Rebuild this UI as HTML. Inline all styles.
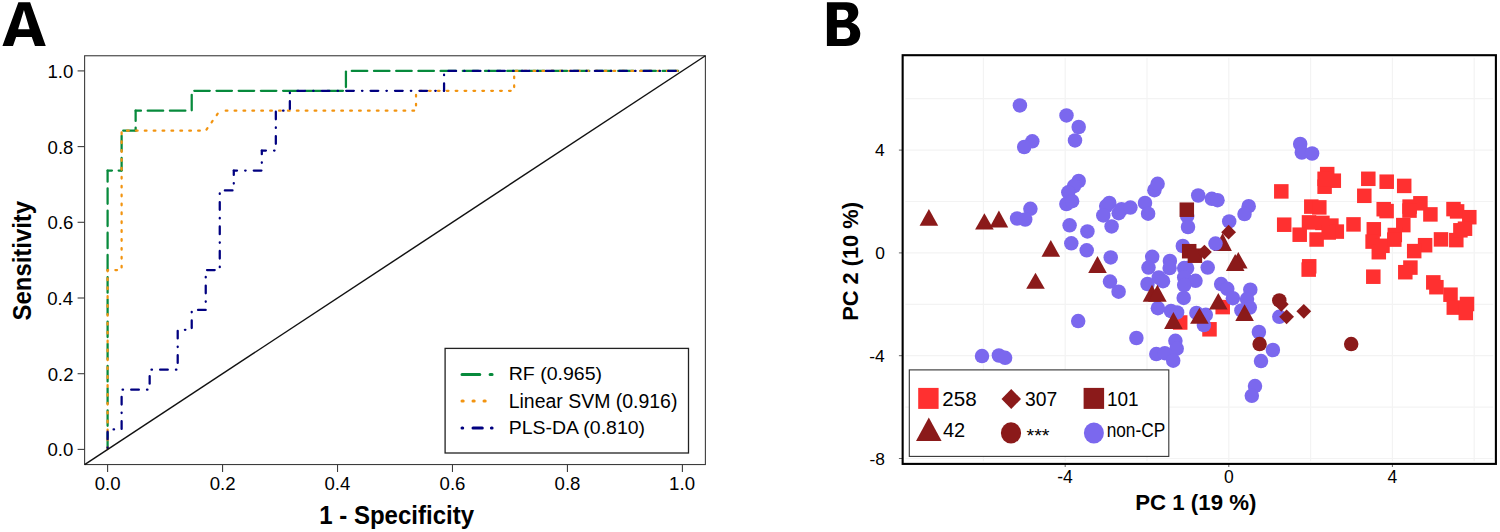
<!DOCTYPE html>
<html><head><meta charset="utf-8"><style>
html,body{margin:0;padding:0;background:#fff;}
svg{display:block;}
text{font-family:"Liberation Sans", sans-serif;fill:#000;}
</style></head><body>
<svg width="1500" height="532" viewBox="0 0 1500 532">
<rect width="1500" height="532" fill="#fff"/>
<g fill="none" stroke="#078A3C" stroke-width="2.25" stroke-linecap="round" stroke-dasharray="15.5 6.7"><line x1="107.60" y1="449.40" x2="107.60" y2="170.51" stroke-dashoffset="20.85"/><line x1="107.60" y1="170.51" x2="121.62" y2="170.51" stroke-dashoffset="11.14"/><line x1="121.62" y1="170.51" x2="121.62" y2="130.66" stroke-dashoffset="2.96"/><line x1="121.62" y1="130.66" x2="135.64" y2="130.66" stroke-dashoffset="20.61"/><line x1="135.64" y1="130.66" x2="135.64" y2="110.74" stroke-dashoffset="12.43"/><line x1="135.64" y1="110.74" x2="191.72" y2="110.74" stroke-dashoffset="10.15"/><line x1="191.72" y1="110.74" x2="191.72" y2="90.82" stroke-dashoffset="21.82"/><line x1="191.72" y1="90.82" x2="345.93" y2="90.82" stroke-dashoffset="19.65"/><line x1="345.93" y1="90.82" x2="345.93" y2="70.90" stroke-dashoffset="18.46"/><line x1="345.93" y1="70.90" x2="682.40" y2="70.90" stroke-dashoffset="16.35"/></g>
<g fill="none" stroke="#F29410" stroke-width="2.25" stroke-linecap="round" stroke-dasharray="1.7 7.19"><line x1="107.60" y1="449.40" x2="107.60" y2="270.11" stroke-dashoffset="8.54"/><line x1="107.60" y1="270.11" x2="121.62" y2="270.11" stroke-dashoffset="1.14"/><line x1="121.62" y1="270.11" x2="121.62" y2="130.66" stroke-dashoffset="6.27"/><line x1="121.62" y1="130.66" x2="205.74" y2="130.66" stroke-dashoffset="3.49"/><line x1="205.74" y1="130.66" x2="219.76" y2="110.74" stroke-dashoffset="7.60"/><line x1="219.76" y1="110.74" x2="416.03" y2="110.74" stroke-dashoffset="2.93"/><line x1="416.03" y1="110.74" x2="416.03" y2="90.82" stroke-dashoffset="3.62"/><line x1="416.03" y1="90.82" x2="514.17" y2="90.82" stroke-dashoffset="4.81"/><line x1="514.17" y1="90.82" x2="514.17" y2="70.90" stroke-dashoffset="5.16"/><line x1="514.17" y1="70.90" x2="682.40" y2="70.90" stroke-dashoffset="7.30"/></g>
<g fill="none" stroke="#000080" stroke-width="2.25" stroke-linecap="round" stroke-dasharray="0.5 8.11 7.7 8.11"><line x1="107.60" y1="449.40" x2="107.60" y2="429.48" stroke-dashoffset="22.96"/><line x1="107.60" y1="429.48" x2="121.62" y2="429.48" stroke-dashoffset="18.46"/><line x1="121.62" y1="429.48" x2="121.62" y2="389.64" stroke-dashoffset="8.06"/><line x1="121.62" y1="389.64" x2="149.66" y2="389.64" stroke-dashoffset="23.48"/><line x1="149.66" y1="389.64" x2="149.66" y2="369.72" stroke-dashoffset="2.68"/><line x1="149.66" y1="369.72" x2="177.70" y2="369.72" stroke-dashoffset="22.60"/><line x1="177.70" y1="369.72" x2="177.70" y2="329.87" stroke-dashoffset="1.80"/><line x1="177.70" y1="329.87" x2="191.72" y2="329.87" stroke-dashoffset="17.22"/><line x1="191.72" y1="329.87" x2="191.72" y2="309.95" stroke-dashoffset="6.82"/><line x1="191.72" y1="309.95" x2="205.74" y2="309.95" stroke-dashoffset="2.32"/><line x1="205.74" y1="309.95" x2="205.74" y2="270.11" stroke-dashoffset="16.34"/><line x1="205.74" y1="270.11" x2="219.76" y2="270.11" stroke-dashoffset="7.35"/><line x1="219.76" y1="270.11" x2="219.76" y2="190.43" stroke-dashoffset="21.54"/><line x1="219.76" y1="190.43" x2="233.78" y2="190.43" stroke-dashoffset="3.54"/><line x1="233.78" y1="190.43" x2="233.78" y2="170.51" stroke-dashoffset="17.56"/><line x1="233.78" y1="170.51" x2="261.81" y2="170.51" stroke-dashoffset="13.06"/><line x1="261.81" y1="170.51" x2="261.81" y2="150.58" stroke-dashoffset="16.68"/><line x1="261.81" y1="150.58" x2="275.83" y2="150.58" stroke-dashoffset="12.18"/><line x1="275.83" y1="150.58" x2="275.83" y2="110.74" stroke-dashoffset="1.78"/><line x1="275.83" y1="110.74" x2="289.85" y2="110.74" stroke-dashoffset="17.21"/><line x1="289.85" y1="110.74" x2="289.85" y2="90.82" stroke-dashoffset="6.81"/><line x1="289.85" y1="90.82" x2="444.07" y2="90.82" stroke-dashoffset="1.14"/><line x1="444.07" y1="90.82" x2="444.07" y2="70.90" stroke-dashoffset="8.83"/><line x1="444.07" y1="70.90" x2="682.40" y2="70.90" stroke-dashoffset="4.34"/></g>
<rect x="84.61" y="55.76" width="620.78" height="408.78" fill="none" stroke="#3c3c3c" stroke-width="1.1"/>
<line x1="77.6" y1="449.40" x2="84.61" y2="449.40" stroke="#3c3c3c" stroke-width="1.1"/>
<line x1="107.60" y1="464.54" x2="107.60" y2="472" stroke="#3c3c3c" stroke-width="1.1"/>
<text transform="translate(47.44,456.30) scale(1.0000,1)" font-size="18.6">0.0</text>
<text transform="translate(94.65,490.00) scale(1.0000,1)" font-size="18.6">0.0</text>
<line x1="77.6" y1="373.70" x2="84.61" y2="373.70" stroke="#3c3c3c" stroke-width="1.1"/>
<line x1="222.56" y1="464.54" x2="222.56" y2="472" stroke="#3c3c3c" stroke-width="1.1"/>
<text transform="translate(47.68,380.60) scale(1.0000,1)" font-size="18.6">0.2</text>
<text transform="translate(209.73,490.00) scale(1.0000,1)" font-size="18.6">0.2</text>
<line x1="77.6" y1="298.00" x2="84.61" y2="298.00" stroke="#3c3c3c" stroke-width="1.1"/>
<line x1="337.52" y1="464.54" x2="337.52" y2="472" stroke="#3c3c3c" stroke-width="1.1"/>
<text transform="translate(47.26,304.90) scale(1.0000,1)" font-size="18.6">0.4</text>
<text transform="translate(324.48,490.00) scale(1.0000,1)" font-size="18.6">0.4</text>
<line x1="77.6" y1="222.30" x2="84.61" y2="222.30" stroke="#3c3c3c" stroke-width="1.1"/>
<line x1="452.48" y1="464.54" x2="452.48" y2="472" stroke="#3c3c3c" stroke-width="1.1"/>
<text transform="translate(47.54,229.20) scale(1.0000,1)" font-size="18.6">0.6</text>
<text transform="translate(439.58,490.00) scale(1.0000,1)" font-size="18.6">0.6</text>
<line x1="77.6" y1="146.60" x2="84.61" y2="146.60" stroke="#3c3c3c" stroke-width="1.1"/>
<line x1="567.44" y1="464.54" x2="567.44" y2="472" stroke="#3c3c3c" stroke-width="1.1"/>
<text transform="translate(47.54,153.50) scale(1.0000,1)" font-size="18.6">0.8</text>
<text transform="translate(554.54,490.00) scale(1.0000,1)" font-size="18.6">0.8</text>
<line x1="77.6" y1="70.90" x2="84.61" y2="70.90" stroke="#3c3c3c" stroke-width="1.1"/>
<line x1="682.40" y1="464.54" x2="682.40" y2="472" stroke="#3c3c3c" stroke-width="1.1"/>
<text transform="translate(47.44,77.80) scale(1.0000,1)" font-size="18.6">1.0</text>
<text transform="translate(669.12,490.00) scale(1.0000,1)" font-size="18.6">1.0</text>
<line x1="84.61" y1="464.54" x2="705.39" y2="55.76" stroke="#111" stroke-width="1.45"/>
<rect x="445.1" y="348.4" width="243.4" height="104.6" fill="#fff" stroke="#222" stroke-width="1.3"/>
<line x1="462" y1="374.4" x2="492.1" y2="374.4" stroke="#078A3C" stroke-width="3" stroke-linecap="round" stroke-dasharray="17.8 10.3"/>
<line x1="462" y1="400.9" x2="486" y2="400.9" stroke="#F29410" stroke-width="3" stroke-linecap="round" stroke-dasharray="1.2 9.8"/>
<line x1="462" y1="427.9" x2="492.1" y2="427.9" stroke="#000080" stroke-width="3" stroke-linecap="round" stroke-dasharray="0.7 10.3 9.3 9.1 0.7 30"/>
<text transform="translate(508.69,380.30) scale(1.0299,1)" font-size="19.0">RF (0.965)</text>
<text transform="translate(508.69,407.80) scale(1.0083,1)" font-size="19.3">Linear SVM (0.916)</text>
<text transform="translate(508.69,434.40) scale(1.0254,1)" font-size="19.0">PLS-DA (0.810)</text>
<path d="M2.44,45.94 L18.38,2.3 L30.11,2.3 L45.75,45.94 L35.0,45.94 L31.77,36.95 L16.13,36.95 L13.0,45.94 Z M23.95,9.9 L18.1,29.13 L29.65,29.13 Z" fill="#000" fill-rule="evenodd"/>
<text transform="translate(319.20,524.40) scale(0.9615,1)" font-size="25.0" font-weight="bold">1 - Specificity</text>
<text transform="translate(30.80,320.42) rotate(-90) scale(0.9563,1)" font-size="25.0" font-weight="bold">Sensitivity</text>
<line x1="983.40" y1="57.80" x2="983.40" y2="461.30" stroke="#f3f3f3" stroke-width="1.2"/>
<line x1="1065.20" y1="57.80" x2="1065.20" y2="461.30" stroke="#f3f3f3" stroke-width="1.2"/>
<line x1="1147.00" y1="57.80" x2="1147.00" y2="461.30" stroke="#f3f3f3" stroke-width="1.2"/>
<line x1="1228.80" y1="57.80" x2="1228.80" y2="461.30" stroke="#f3f3f3" stroke-width="1.2"/>
<line x1="1310.60" y1="57.80" x2="1310.60" y2="461.30" stroke="#f3f3f3" stroke-width="1.2"/>
<line x1="1392.40" y1="57.80" x2="1392.40" y2="461.30" stroke="#f3f3f3" stroke-width="1.2"/>
<line x1="1474.20" y1="57.80" x2="1474.20" y2="461.30" stroke="#f3f3f3" stroke-width="1.2"/>
<line x1="905.35" y1="458.50" x2="1493.30" y2="458.50" stroke="#f3f3f3" stroke-width="1.2"/>
<line x1="905.35" y1="407.10" x2="1493.30" y2="407.10" stroke="#f3f3f3" stroke-width="1.2"/>
<line x1="905.35" y1="355.70" x2="1493.30" y2="355.70" stroke="#f3f3f3" stroke-width="1.2"/>
<line x1="905.35" y1="304.30" x2="1493.30" y2="304.30" stroke="#f3f3f3" stroke-width="1.2"/>
<line x1="905.35" y1="252.90" x2="1493.30" y2="252.90" stroke="#f3f3f3" stroke-width="1.2"/>
<line x1="905.35" y1="201.50" x2="1493.30" y2="201.50" stroke="#f3f3f3" stroke-width="1.2"/>
<line x1="905.35" y1="150.10" x2="1493.30" y2="150.10" stroke="#f3f3f3" stroke-width="1.2"/>
<line x1="905.35" y1="98.70" x2="1493.30" y2="98.70" stroke="#f3f3f3" stroke-width="1.2"/>
<line x1="898.9" y1="150.10" x2="902.65" y2="150.10" stroke="#666" stroke-width="1"/>
<text transform="translate(875.02,156.10) scale(1.0000,1)" font-size="17.4">4</text>
<line x1="898.9" y1="252.90" x2="902.65" y2="252.90" stroke="#666" stroke-width="1"/>
<text transform="translate(875.20,258.90) scale(1.0000,1)" font-size="17.4">0</text>
<line x1="898.9" y1="355.70" x2="902.65" y2="355.70" stroke="#666" stroke-width="1"/>
<text transform="translate(869.24,361.70) scale(1.0000,1)" font-size="17.4">-4</text>
<line x1="898.9" y1="458.50" x2="902.65" y2="458.50" stroke="#666" stroke-width="1"/>
<text transform="translate(869.50,464.50) scale(1.0000,1)" font-size="17.4">-8</text>
<line x1="1065.20" y1="463.90" x2="1065.20" y2="467" stroke="#666" stroke-width="1"/>
<text transform="translate(1057.28,483.10) scale(1.0000,1)" font-size="17.5">-4</text>
<line x1="1228.80" y1="463.90" x2="1228.80" y2="467" stroke="#666" stroke-width="1"/>
<text transform="translate(1223.92,483.10) scale(1.0000,1)" font-size="17.5">0</text>
<line x1="1392.40" y1="463.90" x2="1392.40" y2="467" stroke="#666" stroke-width="1"/>
<text transform="translate(1387.59,483.10) scale(1.0000,1)" font-size="17.5">4</text>
<rect x="1274.05" y="184.15" width="14.5" height="14.5" fill="#FF3030"/>
<rect x="1276.95" y="217.45" width="14.5" height="14.5" fill="#FF3030"/>
<rect x="1319.95" y="166.85" width="14.5" height="14.5" fill="#FF3030"/>
<rect x="1326.55" y="173.45" width="14.5" height="14.5" fill="#FF3030"/>
<rect x="1317.35" y="179.45" width="14.5" height="14.5" fill="#FF3030"/>
<rect x="1317.35" y="171.55" width="14.5" height="14.5" fill="#FF3030"/>
<rect x="1361.05" y="171.55" width="14.5" height="14.5" fill="#FF3030"/>
<rect x="1379.45" y="174.45" width="14.5" height="14.5" fill="#FF3030"/>
<rect x="1396.95" y="178.65" width="14.5" height="14.5" fill="#FF3030"/>
<rect x="1357.05" y="188.55" width="14.5" height="14.5" fill="#FF3030"/>
<rect x="1304.05" y="199.35" width="14.5" height="14.5" fill="#FF3030"/>
<rect x="1312.05" y="200.15" width="14.5" height="14.5" fill="#FF3030"/>
<rect x="1301.75" y="215.15" width="14.5" height="14.5" fill="#FF3030"/>
<rect x="1315.15" y="215.65" width="14.5" height="14.5" fill="#FF3030"/>
<rect x="1324.15" y="218.35" width="14.5" height="14.5" fill="#FF3030"/>
<rect x="1329.55" y="224.35" width="14.5" height="14.5" fill="#FF3030"/>
<rect x="1321.45" y="225.25" width="14.5" height="14.5" fill="#FF3030"/>
<rect x="1292.45" y="227.45" width="14.5" height="14.5" fill="#FF3030"/>
<rect x="1309.35" y="232.25" width="14.5" height="14.5" fill="#FF3030"/>
<rect x="1346.25" y="217.15" width="14.5" height="14.5" fill="#FF3030"/>
<rect x="1376.45" y="201.95" width="14.5" height="14.5" fill="#FF3030"/>
<rect x="1379.35" y="203.85" width="14.5" height="14.5" fill="#FF3030"/>
<rect x="1402.35" y="199.35" width="14.5" height="14.5" fill="#FF3030"/>
<rect x="1413.15" y="196.05" width="14.5" height="14.5" fill="#FF3030"/>
<rect x="1402.25" y="203.35" width="14.5" height="14.5" fill="#FF3030"/>
<rect x="1423.15" y="207.15" width="14.5" height="14.5" fill="#FF3030"/>
<rect x="1396.05" y="217.85" width="14.5" height="14.5" fill="#FF3030"/>
<rect x="1387.55" y="227.75" width="14.5" height="14.5" fill="#FF3030"/>
<rect x="1366.55" y="222.05" width="14.5" height="14.5" fill="#FF3030"/>
<rect x="1365.35" y="234.35" width="14.5" height="14.5" fill="#FF3030"/>
<rect x="1371.55" y="244.95" width="14.5" height="14.5" fill="#FF3030"/>
<rect x="1375.25" y="238.55" width="14.5" height="14.5" fill="#FF3030"/>
<rect x="1387.05" y="232.35" width="14.5" height="14.5" fill="#FF3030"/>
<rect x="1417.85" y="237.95" width="14.5" height="14.5" fill="#FF3030"/>
<rect x="1406.95" y="243.85" width="14.5" height="14.5" fill="#FF3030"/>
<rect x="1433.75" y="232.15" width="14.5" height="14.5" fill="#FF3030"/>
<rect x="1449.05" y="232.85" width="14.5" height="14.5" fill="#FF3030"/>
<rect x="1446.25" y="201.85" width="14.5" height="14.5" fill="#FF3030"/>
<rect x="1449.85" y="204.15" width="14.5" height="14.5" fill="#FF3030"/>
<rect x="1462.05" y="209.95" width="14.5" height="14.5" fill="#FF3030"/>
<rect x="1453.15" y="223.05" width="14.5" height="14.5" fill="#FF3030"/>
<rect x="1457.75" y="221.45" width="14.5" height="14.5" fill="#FF3030"/>
<rect x="1403.15" y="260.35" width="14.5" height="14.5" fill="#FF3030"/>
<rect x="1398.05" y="264.95" width="14.5" height="14.5" fill="#FF3030"/>
<rect x="1426.05" y="275.15" width="14.5" height="14.5" fill="#FF3030"/>
<rect x="1429.15" y="279.95" width="14.5" height="14.5" fill="#FF3030"/>
<rect x="1443.25" y="287.45" width="14.5" height="14.5" fill="#FF3030"/>
<rect x="1446.55" y="300.35" width="14.5" height="14.5" fill="#FF3030"/>
<rect x="1459.75" y="296.75" width="14.5" height="14.5" fill="#FF3030"/>
<rect x="1458.55" y="305.75" width="14.5" height="14.5" fill="#FF3030"/>
<rect x="1366.05" y="269.45" width="14.5" height="14.5" fill="#FF3030"/>
<rect x="1301.95" y="259.05" width="14.5" height="14.5" fill="#FF3030"/>
<rect x="1301.45" y="262.35" width="14.5" height="14.5" fill="#FF3030"/>
<rect x="1215.45" y="299.85" width="14.5" height="14.5" fill="#FF3030"/>
<rect x="1172.95" y="315.25" width="14.5" height="14.5" fill="#FF3030"/>
<rect x="1202.25" y="322.05" width="14.5" height="14.5" fill="#FF3030"/>
<polygon points="1222.60,233.00 1231.90,250.90 1213.30,250.90" fill="#8B1A1A"/>
<circle cx="1019.9" cy="105.4" r="7.25" fill="#7B68EE"/>
<circle cx="1032.3" cy="141.3" r="7.25" fill="#7B68EE"/>
<circle cx="1024.2" cy="147" r="7.25" fill="#7B68EE"/>
<circle cx="1030.4" cy="208.8" r="7.25" fill="#7B68EE"/>
<circle cx="1017.1" cy="218.5" r="7.25" fill="#7B68EE"/>
<circle cx="1025.2" cy="219.5" r="7.25" fill="#7B68EE"/>
<circle cx="982" cy="356.1" r="7.25" fill="#7B68EE"/>
<circle cx="998.9" cy="355.5" r="7.25" fill="#7B68EE"/>
<circle cx="1005.1" cy="357.8" r="7.25" fill="#7B68EE"/>
<circle cx="1066.5" cy="115.4" r="7.25" fill="#7B68EE"/>
<circle cx="1078.7" cy="127" r="7.25" fill="#7B68EE"/>
<circle cx="1075" cy="140.4" r="7.25" fill="#7B68EE"/>
<circle cx="1078.7" cy="181" r="7.25" fill="#7B68EE"/>
<circle cx="1074" cy="186.1" r="7.25" fill="#7B68EE"/>
<circle cx="1068.3" cy="192.3" r="7.25" fill="#7B68EE"/>
<circle cx="1066.4" cy="204" r="7.25" fill="#7B68EE"/>
<circle cx="1072.1" cy="201.2" r="7.25" fill="#7B68EE"/>
<circle cx="1069.6" cy="225.3" r="7.25" fill="#7B68EE"/>
<circle cx="1087.4" cy="231.4" r="7.25" fill="#7B68EE"/>
<circle cx="1071.3" cy="243.3" r="7.25" fill="#7B68EE"/>
<circle cx="1086.7" cy="250.3" r="7.25" fill="#7B68EE"/>
<circle cx="1110.7" cy="257.4" r="7.25" fill="#7B68EE"/>
<circle cx="1109.3" cy="202.9" r="7.25" fill="#7B68EE"/>
<circle cx="1106.2" cy="206.1" r="7.25" fill="#7B68EE"/>
<circle cx="1103.3" cy="215.4" r="7.25" fill="#7B68EE"/>
<circle cx="1111.6" cy="226.4" r="7.25" fill="#7B68EE"/>
<circle cx="1118.7" cy="213.2" r="7.25" fill="#7B68EE"/>
<circle cx="1121.5" cy="209.2" r="7.25" fill="#7B68EE"/>
<circle cx="1130.4" cy="207.6" r="7.25" fill="#7B68EE"/>
<circle cx="1145" cy="202.9" r="7.25" fill="#7B68EE"/>
<circle cx="1148.1" cy="213.7" r="7.25" fill="#7B68EE"/>
<circle cx="1154.4" cy="190.2" r="7.25" fill="#7B68EE"/>
<circle cx="1157.6" cy="183.8" r="7.25" fill="#7B68EE"/>
<circle cx="1110" cy="281.6" r="7.25" fill="#7B68EE"/>
<circle cx="1118.6" cy="291.7" r="7.25" fill="#7B68EE"/>
<circle cx="1078.2" cy="321.1" r="7.25" fill="#7B68EE"/>
<circle cx="1136.4" cy="338" r="7.25" fill="#7B68EE"/>
<circle cx="1182.8" cy="246" r="7.25" fill="#7B68EE"/>
<circle cx="1152.2" cy="256.8" r="7.25" fill="#7B68EE"/>
<circle cx="1148.5" cy="267.6" r="7.25" fill="#7B68EE"/>
<circle cx="1169.9" cy="261" r="7.25" fill="#7B68EE"/>
<circle cx="1169.6" cy="268.1" r="7.25" fill="#7B68EE"/>
<circle cx="1184.2" cy="268.1" r="7.25" fill="#7B68EE"/>
<circle cx="1187.1" cy="268.1" r="7.25" fill="#7B68EE"/>
<circle cx="1207.7" cy="267.6" r="7.25" fill="#7B68EE"/>
<circle cx="1158.8" cy="277.5" r="7.25" fill="#7B68EE"/>
<circle cx="1163" cy="281.2" r="7.25" fill="#7B68EE"/>
<circle cx="1147.5" cy="284" r="7.25" fill="#7B68EE"/>
<circle cx="1184.2" cy="277.5" r="7.25" fill="#7B68EE"/>
<circle cx="1195.5" cy="280.8" r="7.25" fill="#7B68EE"/>
<circle cx="1184.2" cy="285" r="7.25" fill="#7B68EE"/>
<circle cx="1157.9" cy="308.2" r="7.25" fill="#7B68EE"/>
<circle cx="1171" cy="311" r="7.25" fill="#7B68EE"/>
<circle cx="1177.1" cy="312.4" r="7.25" fill="#7B68EE"/>
<circle cx="1183.7" cy="297.9" r="7.25" fill="#7B68EE"/>
<circle cx="1196.4" cy="312.9" r="7.25" fill="#7B68EE"/>
<circle cx="1205.8" cy="314.8" r="7.25" fill="#7B68EE"/>
<circle cx="1203.9" cy="325.1" r="7.25" fill="#7B68EE"/>
<circle cx="1175.4" cy="340.8" r="7.25" fill="#7B68EE"/>
<circle cx="1176.7" cy="348.7" r="7.25" fill="#7B68EE"/>
<circle cx="1156.3" cy="354.1" r="7.25" fill="#7B68EE"/>
<circle cx="1164.8" cy="353.2" r="7.25" fill="#7B68EE"/>
<circle cx="1173.2" cy="360.7" r="7.25" fill="#7B68EE"/>
<circle cx="1198.2" cy="195.5" r="7.25" fill="#7B68EE"/>
<circle cx="1211.8" cy="198.8" r="7.25" fill="#7B68EE"/>
<circle cx="1217.5" cy="200.2" r="7.25" fill="#7B68EE"/>
<circle cx="1187.2" cy="216" r="7.25" fill="#7B68EE"/>
<circle cx="1188" cy="227" r="7.25" fill="#7B68EE"/>
<circle cx="1229.2" cy="221.4" r="7.25" fill="#7B68EE"/>
<circle cx="1248.7" cy="206.2" r="7.25" fill="#7B68EE"/>
<circle cx="1244.5" cy="214.1" r="7.25" fill="#7B68EE"/>
<circle cx="1215.5" cy="243.6" r="7.25" fill="#7B68EE"/>
<circle cx="1221.1" cy="284.1" r="7.25" fill="#7B68EE"/>
<circle cx="1227.3" cy="288.8" r="7.25" fill="#7B68EE"/>
<circle cx="1232.9" cy="298.2" r="7.25" fill="#7B68EE"/>
<circle cx="1250.3" cy="289.7" r="7.25" fill="#7B68EE"/>
<circle cx="1247" cy="299.1" r="7.25" fill="#7B68EE"/>
<circle cx="1249.8" cy="307.6" r="7.25" fill="#7B68EE"/>
<circle cx="1241.4" cy="310.4" r="7.25" fill="#7B68EE"/>
<circle cx="1279.3" cy="316.8" r="7.25" fill="#7B68EE"/>
<circle cx="1258.9" cy="332" r="7.25" fill="#7B68EE"/>
<circle cx="1272.9" cy="350" r="7.25" fill="#7B68EE"/>
<circle cx="1261" cy="361.1" r="7.25" fill="#7B68EE"/>
<circle cx="1255" cy="386.1" r="7.25" fill="#7B68EE"/>
<circle cx="1251.8" cy="395.8" r="7.25" fill="#7B68EE"/>
<circle cx="1300.2" cy="144" r="7.25" fill="#7B68EE"/>
<circle cx="1301.8" cy="152.6" r="7.25" fill="#7B68EE"/>
<circle cx="1312.1" cy="153.5" r="7.25" fill="#7B68EE"/>
<polygon points="928.90,209.10 938.20,225.70 919.60,225.70" fill="#8B1A1A"/>
<polygon points="984.40,213.30 993.70,229.40 975.10,229.40" fill="#8B1A1A"/>
<polygon points="998.90,210.60 1008.20,227.60 989.60,227.60" fill="#8B1A1A"/>
<polygon points="1050.80,240.00 1060.10,256.80 1041.50,256.80" fill="#8B1A1A"/>
<polygon points="1035.50,272.80 1044.80,288.80 1026.20,288.80" fill="#8B1A1A"/>
<polygon points="1097.50,256.10 1106.80,272.90 1088.20,272.90" fill="#8B1A1A"/>
<polygon points="1152.00,284.70 1161.30,301.80 1142.70,301.80" fill="#8B1A1A"/>
<polygon points="1157.40,284.70 1166.70,301.80 1148.10,301.80" fill="#8B1A1A"/>
<polygon points="1173.40,312.00 1182.70,328.90 1164.10,328.90" fill="#8B1A1A"/>
<polygon points="1199.40,307.70 1208.70,323.70 1190.10,323.70" fill="#8B1A1A"/>
<polygon points="1218.30,293.00 1227.60,309.50 1209.00,309.50" fill="#8B1A1A"/>
<polygon points="1238.30,252.10 1247.60,268.50 1229.00,268.50" fill="#8B1A1A"/>
<polygon points="1235.20,254.00 1244.50,270.90 1225.90,270.90" fill="#8B1A1A"/>
<polygon points="1244.60,304.30 1253.90,321.10 1235.30,321.10" fill="#8B1A1A"/>
<rect x="1179.55" y="202.45" width="14.5" height="14.5" fill="#8B1A1A"/>
<rect x="1181.95" y="243.95" width="14.5" height="14.5" fill="#8B1A1A"/>
<rect x="1187.65" y="248.45" width="14.5" height="14.5" fill="#8B1A1A"/>
<polygon points="1228.6,224.80 1236.00,232.2 1228.6,239.60 1221.20,232.2" fill="#8B1A1A"/>
<polygon points="1204.4,244.70 1211.80,252.1 1204.4,259.50 1197.00,252.1" fill="#8B1A1A"/>
<polygon points="1281.3,296.90 1288.70,304.3 1281.3,311.70 1273.90,304.3" fill="#8B1A1A"/>
<polygon points="1286.6,309.40 1294.00,316.8 1286.6,324.20 1279.20,316.8" fill="#8B1A1A"/>
<polygon points="1303.8,303.90 1311.20,311.3 1303.8,318.70 1296.40,311.3" fill="#8B1A1A"/>
<circle cx="1279.3" cy="300.4" r="7.25" fill="#8B1A1A"/>
<circle cx="1259.6" cy="344.1" r="7.25" fill="#8B1A1A"/>
<circle cx="1351.2" cy="344.1" r="7.25" fill="#8B1A1A"/>
<rect x="902.65" y="55.2" width="593.25" height="408.70" fill="none" stroke="#000" stroke-width="2.1"/>
<rect x="909.3" y="369.9" width="259.5" height="86.5" fill="#fff" stroke="#333" stroke-width="1.1"/>
<rect x="918.2" y="387.9" width="20.4" height="21" fill="#FF3030"/>
<polygon points="1011.25,389 1021,399 1011.25,409 1001.5,399" fill="#8B1A1A"/>
<rect x="1083.6" y="387.9" width="20.5" height="21" fill="#8B1A1A"/>
<polygon points="928.8,417.5 941.6,441 916.0,441" fill="#8B1A1A"/>
<ellipse cx="1011" cy="432.9" rx="10.1" ry="10.6" fill="#8B1A1A"/>
<ellipse cx="1093.9" cy="433" rx="10" ry="10.6" fill="#7B68EE"/>
<text transform="translate(942.37,406.30) scale(1.0066,1)" font-size="20.5">258</text>
<text transform="translate(1024.98,406.30) scale(0.9416,1)" font-size="20.5">307</text>
<text transform="translate(1106.97,406.30) scale(0.9283,1)" font-size="20.5">101</text>
<text transform="translate(942.95,437.30) scale(0.9780,1)" font-size="20.5">42</text>
<text transform="translate(1026.45,442.30) scale(1.1175,1)" font-size="17.7">***</text>
<text transform="translate(1106.63,437.30) scale(0.8428,1)" font-size="20.5">non-CP</text>
<path d="M826.9,2.2 H846.5 C854.3,2.2 858.3,6.3 858.3,12.2 C858.3,16.9 855.6,20.4 851.2,22.4 C857,23.9 860.3,28.3 860.3,33.6 C860.3,41.4 855,46.1 845.5,46.1 H826.9 Z M836.9,9.7 V19.9 H843.2 C846.4,19.9 848.3,18.1 848.3,14.8 C848.3,11.4 846.4,9.7 843.3,9.7 Z M836.9,27.6 V38.9 H844.4 C848.2,38.9 850.2,36.8 850.2,33.2 C850.2,29.6 848.1,27.6 844.5,27.6 Z" fill="#000" fill-rule="evenodd"/>
<text transform="translate(1135.30,510.40) scale(0.9877,1)" font-size="22.5" font-weight="bold">PC 1 (19 %)</text>
<text transform="translate(858.40,320.87) rotate(-90) scale(0.9702,1)" font-size="22.5" font-weight="bold">PC 2 (10 %)</text>
</svg></body></html>
